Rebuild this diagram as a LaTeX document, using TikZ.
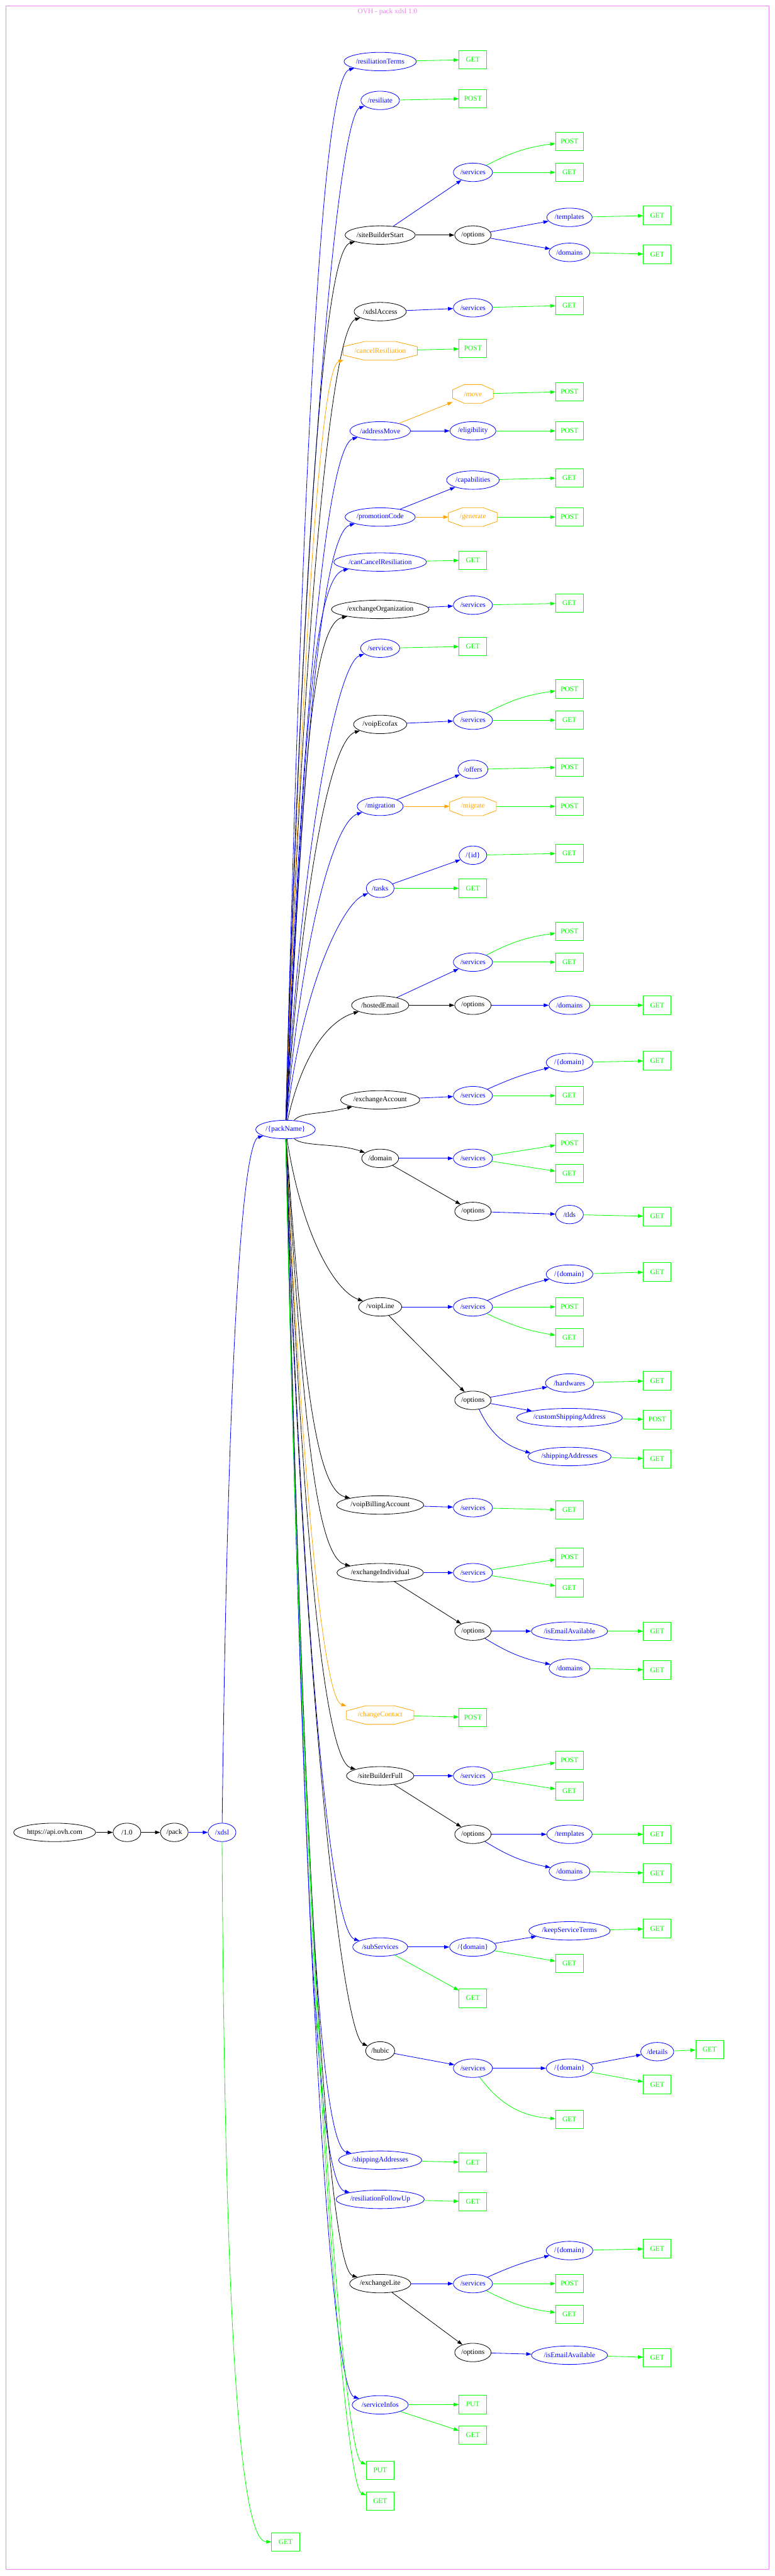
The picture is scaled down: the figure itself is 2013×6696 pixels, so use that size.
\documentclass[tikz,border=0pt]{standalone}
\usepackage{fontspec}
\setmainfont{Liberation Serif}
\usetikzlibrary{arrows.meta,calc,shapes.geometric}
\definecolor{vio}{HTML}{EE82EE}
\definecolor{grn}{HTML}{00FF00}
\definecolor{blu}{HTML}{0000FF}
\definecolor{org}{HTML}{FFA500}
\tikzset{
  res/.style={ellipse,draw,line width=1pt,minimum width=54pt,minimum height=36pt,inner xsep=2.5pt,inner ysep=1pt},
  bres/.style={res,draw=blu,text=blu},
  act/.style={rectangle,text=org,minimum height=36pt,inner xsep=22pt},
  meth/.style={rectangle,draw=grn,text=grn,line width=1pt,minimum width=54pt,minimum height=36pt},
  lnk/.style={-{Triangle[length=10pt,width=7pt]},line width=1pt}
}
\begin{document}
\begin{tikzpicture}[font=\fontsize{14pt}{16pt}\selectfont, line join=round, x=0.75pt, y=-0.75pt]
\useasboundingbox (0,0) rectangle (2013,6696);
\draw[vio,line width=1pt] (16,16) rectangle (1998,6679);
\node[text=vio] (ttl) at (1007,31) {OVH - pack xdsl 1.0};
% root chain
\node[res] (api) at (142,4763) {https://api.ovh.com};
\node[res] (v10) at (330,4763) {/1.0};
\node[res] (pack) at (453,4763) {/pack};
\node[bres] (xdsl) at (577,4763) {/xdsl};
\node[bres] (pkn) at (742,2936) {/\{packName\}};
\node[meth] (xGet) at (742,6607) {GET};
% first level
\node[bres] (rT) at (988,160) {/resiliationTerms};
\node[bres] (rs) at (988,261) {/resiliate};
\node[res] (sbs) at (988,611) {/siteBuilderStart};
\node[res] (xa) at (988,810) {/xdslAccess};
\node[act] (cR) at (988,912) {/cancelResiliation};
\node[bres] (aM) at (988,1120) {/addressMove};
\node[bres] (pC) at (988,1344) {/promotionCode};
\node[bres] (cCR) at (988,1461) {/canCancelResiliation};
\node[res] (eO) at (988,1584) {/exchangeOrganization};
\node[bres] (sv) at (988,1685) {/services};
\node[res] (vE) at (988,1883) {/voipEcofax};
\node[bres] (mg) at (988,2096) {/migration};
\node[bres] (tk) at (988,2309) {/tasks};
\node[res] (hE) at (988,2613) {/hostedEmail};
\node[res] (eA) at (988,2859) {/exchangeAccount};
\node[res] (dm) at (988,3011) {/domain};
\node[res] (vL) at (988,3397) {/voipLine};
\node[res] (vBA) at (988,3912) {/voipBillingAccount};
\node[res] (eI) at (988,4088) {/exchangeIndividual};
\node[act] (cC) at (988,4458) {/changeContact};
\node[res] (sBF) at (988,4616) {/siteBuilderFull};
\node[bres] (sS) at (988,5061) {/subServices};
\node[res] (hb) at (988,5331) {/hubic};
\node[bres] (sA) at (988,5615) {/shippingAddresses};
\node[bres] (rF) at (988,5717) {/resiliationFollowUp};
\node[res] (eL) at (988,5936) {/exchangeLite};
\node[bres] (sI) at (988,6251) {/serviceInfos};
\node[meth] (pPut) at (988,6421) {PUT};
\node[meth] (pGet) at (988,6501) {GET};
% deeper levels
\node[meth] (rTg) at (1229,155) {GET};
\node[meth] (rsp) at (1229,256) {POST};
\node[bres] (sbsS) at (1229,448) {/services};
\node[meth] (sbsSp) at (1480,368) {POST};
\node[meth] (sbsSg) at (1480,448) {GET};
\node[res] (sbsO) at (1229,611) {/options};
\node[bres] (sbsOt) at (1480,565) {/templates};
\node[meth] (sbsOtg) at (1708,560) {GET};
\node[bres] (sbsOd) at (1480,656) {/domains};
\node[meth] (sbsOdg) at (1708,661) {GET};
\node[bres] (xaS) at (1229,800) {/services};
\node[meth] (xaSg) at (1480,794) {GET};
\node[meth] (cRp) at (1229,906) {POST};
\node[act] (aMm) at (1229,1024) {/move};
\node[meth] (aMmp) at (1480,1018) {POST};
\node[bres] (aMe) at (1229,1120) {/eligibility};
\node[meth] (aMep) at (1480,1120) {POST};
\node[bres] (pCc) at (1229,1248) {/capabilities};
\node[meth] (pCcg) at (1480,1242) {GET};
\node[act] (pCg) at (1229,1344) {/generate};
\node[meth] (pCgp) at (1480,1344) {POST};
\node[meth] (cCRg) at (1229,1456) {GET};
\node[bres] (eOS) at (1229,1573) {/services};
\node[meth] (eOSg) at (1480,1568) {GET};
\node[meth] (svg) at (1229,1680) {GET};
\node[bres] (vES) at (1229,1872) {/services};
\node[meth] (vESp) at (1480,1791) {POST};
\node[meth] (vESg) at (1480,1872) {GET};
\node[bres] (mgo) at (1229,2000) {/offers};
\node[meth] (mgop) at (1480,1994) {POST};
\node[act] (mgm) at (1229,2096) {/migrate};
\node[meth] (mgmp) at (1480,2096) {POST};
\node[bres] (tki) at (1229,2223) {/\{id\}};
\node[meth] (tkig) at (1480,2218) {GET};
\node[meth] (tkg) at (1229,2309) {GET};
\node[bres] (hES) at (1229,2501) {/services};
\node[meth] (hESp) at (1480,2421) {POST};
\node[meth] (hESg) at (1480,2501) {GET};
\node[res] (hEO) at (1229,2613) {/options};
\node[bres] (hEOd) at (1480,2613) {/domains};
\node[meth] (hEOdg) at (1708,2613) {GET};
\node[bres] (eAS) at (1229,2848) {/services};
\node[bres] (eASd) at (1480,2762) {/\{domain\}};
\node[meth] (eASdg) at (1708,2757) {GET};
\node[meth] (eASg) at (1480,2848) {GET};
\node[bres] (dmS) at (1229,3011) {/services};
\node[meth] (dmSp) at (1480,2971) {POST};
\node[meth] (dmSg) at (1480,3050) {GET};
\node[res] (dmO) at (1229,3149) {/options};
\node[bres] (dmOt) at (1480,3157) {/tlds};
\node[meth] (dmOtg) at (1708,3162) {GET};
\node[bres] (vLS) at (1229,3397) {/services};
\node[bres] (vLSd) at (1480,3312) {/\{domain\}};
\node[meth] (vLSdg) at (1708,3306) {GET};
\node[meth] (vLSp) at (1480,3397) {POST};
\node[meth] (vLSg) at (1480,3477) {GET};
\node[res] (vLO) at (1229,3640) {/options};
\node[bres] (vLOh) at (1480,3595) {/hardwares};
\node[meth] (vLOhg) at (1708,3589) {GET};
\node[bres] (vLOc) at (1480,3685) {/customShippingAddress};
\node[meth] (vLOcp) at (1708,3690) {POST};
\node[bres] (vLOs) at (1480,3786) {/shippingAddresses};
\node[meth] (vLOsg) at (1708,3792) {GET};
\node[bres] (vBAS) at (1229,3919) {/services};
\node[meth] (vBASg) at (1480,3925) {GET};
\node[bres] (eIS) at (1229,4088) {/services};
\node[meth] (eISp) at (1480,4048) {POST};
\node[meth] (eISg) at (1480,4128) {GET};
\node[res] (eIO) at (1229,4240) {/options};
\node[bres] (eIOi) at (1480,4240) {/isEmailAvailable};
\node[meth] (eIOig) at (1708,4240) {GET};
\node[bres] (eIOd) at (1480,4336) {/domains};
\node[meth] (eIOdg) at (1708,4341) {GET};
\node[meth] (cCp) at (1229,4464) {POST};
\node[bres] (sBFS) at (1229,4616) {/services};
\node[meth] (sBFSp) at (1480,4576) {POST};
\node[meth] (sBFSg) at (1480,4656) {GET};
\node[res] (sBFO) at (1229,4768) {/options};
\node[bres] (sBFOt) at (1480,4768) {/templates};
\node[meth] (sBFOtg) at (1708,4768) {GET};
\node[bres] (sBFOd) at (1480,4864) {/domains};
\node[meth] (sBFOdg) at (1708,4869) {GET};
\node[bres] (sSd) at (1229,5061) {/\{domain\}};
\node[bres] (sSdk) at (1480,5019) {/keepServiceTerms};
\node[meth] (sSdkg) at (1708,5013) {GET};
\node[meth] (sSdg) at (1480,5104) {GET};
\node[meth] (sSg) at (1229,5194) {GET};
\node[bres] (hbS) at (1229,5376) {/services};
\node[bres] (hbSd) at (1480,5376) {/\{domain\}};
\node[bres] (hbSdd) at (1708,5333) {/details};
\node[meth] (hbSddg) at (1844,5327) {GET};
\node[meth] (hbSdg) at (1708,5418) {GET};
\node[meth] (hbSg) at (1480,5509) {GET};
\node[meth] (sAg) at (1229,5621) {GET};
\node[meth] (rFg) at (1229,5723) {GET};
\node[bres] (eLS) at (1229,5936) {/services};
\node[bres] (eLSd) at (1480,5850) {/\{domain\}};
\node[meth] (eLSdg) at (1708,5845) {GET};
\node[meth] (eLSp) at (1480,5936) {POST};
\node[meth] (eLSg) at (1480,6016) {GET};
\node[res] (eLO) at (1229,6115) {/options};
\node[bres] (eLOi) at (1480,6122) {/isEmailAvailable};
\node[meth] (eLOig) at (1708,6128) {GET};
\node[meth] (sIu) at (1229,6250) {PUT};
\node[meth] (sIg) at (1229,6330) {GET};
% octagons
\foreach \n in {cR,aMm,pCg,mgm,cC}
  \draw[org,line width=1pt] ($(\n.west)!.45!(\n.north west)$) -- ($(\n.north)!.42!(\n.north west)$) -- ($(\n.north)!.42!(\n.north east)$) -- ($(\n.east)!.45!(\n.north east)$) -- ($(\n.east)!.45!(\n.south east)$) -- ($(\n.south)!.42!(\n.south east)$) -- ($(\n.south)!.42!(\n.south west)$) -- ($(\n.west)!.45!(\n.south west)$) -- cycle;
% connectors
\draw[lnk] (api) -- (v10);
\draw[lnk] (v10) -- (pack);
\draw[lnk,blu] (pack) -- (xdsl);
\draw[lnk,blu] (xdsl) .. controls (595,3300) and (640,2965) .. (pkn);
\draw[lnk,grn] (xdsl) .. controls (585,6300) and (640,6607) .. (xGet);
\foreach \n/\k/\yy in {rT/blu/160,rs/blu/261,sbs/black/611,xa/black/810,cR/org/912,aM/blu/1120,pC/blu/1344,cCR/blu/1461,eO/black/1584,sv/blu/1685,vE/black/1883,mg/blu/2096,tk/blu/2309,hE/black/2613,eA/black/2859,dm/black/3011,vL/black/3397,vBA/black/3912,eI/black/4088,cC/org/4458,sBF/black/4616,sS/blu/5061,hb/black/5331,sA/blu/5615,rF/blu/5717,eL/black/5936,sI/blu/6251,pPut/grn/6421,pGet/grn/6501}
  \draw[lnk,\k] (pkn) .. controls (785,{2936+0.6*(\yy-2936)}) and ($(\n.west)+(-60,{40*sign(2936-\yy)})$) .. (\n);
\foreach \a/\b in {sbs/sbsO,hE/hEO,dm/dmO,vL/vLO,eI/eIO,sBF/sBFO,eL/eLO}
  \draw[lnk] (\a) -- (\b);
\foreach \a/\b in {sbs/sbsS,sbsO/sbsOt,sbsO/sbsOd,xa/xaS,aM/aMe,pC/pCc,eO/eOS,vE/vES,mg/mgo,tk/tki,hE/hES,hEO/hEOd,eA/eAS,dm/dmS,dmO/dmOt,vL/vLS,vLO/vLOh,vLO/vLOc,vBA/vBAS,eI/eIS,eIO/eIOi,sBF/sBFS,sBFO/sBFOt,sS/sSd,sSd/sSdk,hb/hbS,hbS/hbSd,hbSd/hbSdd,eL/eLS,eLO/eLOi}
  \draw[lnk,blu] (\a) -- (\b);
\draw[lnk,blu] (eAS) to[bend left=5] (eASd);
\draw[lnk,blu] (vLS) to[bend left=5] (vLSd);
\draw[lnk,blu] (eLS) to[bend left=5] (eLSd);
\draw[lnk,blu] (vLO) to[bend right=25] (vLOs);
\draw[lnk,blu] (eIO) to[bend right=10] (eIOd);
\draw[lnk,blu] (sBFO) to[bend right=10] (sBFOd);
\foreach \a/\b in {aM/aMm,pC/pCg,mg/mgm}
  \draw[lnk,org] (\a) -- (\b);
\foreach \a/\b in {rT/rTg,rs/rsp,sbsS/sbsSg,sbsOt/sbsOtg,sbsOd/sbsOdg,xaS/xaSg,cR/cRp,aMm/aMmp,aMe/aMep,pCc/pCcg,pCg/pCgp,cCR/cCRg,eOS/eOSg,sv/svg,vES/vESg,mgo/mgop,mgm/mgmp,tki/tkig,tk/tkg,hES/hESg,hEOd/hEOdg,eASd/eASdg,eAS/eASg,dmS/dmSp,dmS/dmSg,dmOt/dmOtg,vLSd/vLSdg,vLS/vLSp,vLOh/vLOhg,vLOc/vLOcp,vLOs/vLOsg,vBAS/vBASg,eIS/eISp,eIS/eISg,eIOi/eIOig,eIOd/eIOdg,cC/cCp,sBFS/sBFSp,sBFS/sBFSg,sBFOt/sBFOtg,sBFOd/sBFOdg,sSdk/sSdkg,sSd/sSdg,sS/sSg,hbSdd/hbSddg,hbSd/hbSdg,sA/sAg,rF/rFg,eLSd/eLSdg,eLS/eLSp,eLOi/eLOig,sI/sIu,sI/sIg}
  \draw[lnk,grn] (\a) -- (\b);
\draw[lnk,grn] (sbsS) to[bend left=10] (sbsSp);
\draw[lnk,grn] (vES) to[bend left=10] (vESp);
\draw[lnk,grn] (hES) to[bend left=10] (hESp);
\draw[lnk,grn] (vLS) to[bend right=8] (vLSg);
\draw[lnk,grn] (hbS) to[bend right=25] (hbSg);
\draw[lnk,grn] (eLS) to[bend right=10] (eLSg);
\end{tikzpicture}
\end{document}
